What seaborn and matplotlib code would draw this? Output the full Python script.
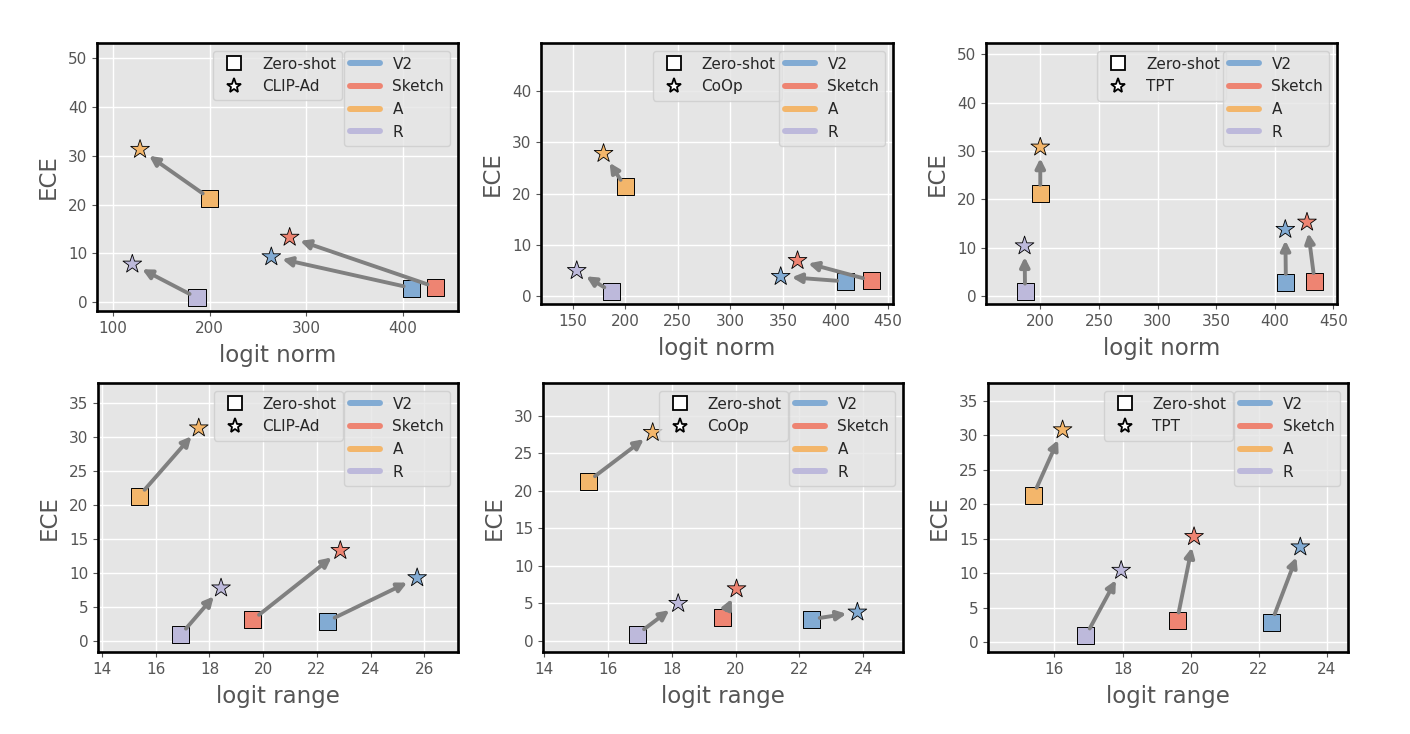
import matplotlib
matplotlib.use("Agg")
import matplotlib.pyplot as plt
import seaborn as sns
import pandas as pd
from matplotlib.lines import Line2D

# ---------------- data ----------------
domains = ["V2", "Sketch", "A", "R"]
domain_colors = ["#82abd3", "#ee8472", "#f3b66b", "#bdb9db"]

zs_ece = [2.9, 3.1, 21.3, 0.9]
zs_norm = [409.5, 434.0, 200.0, 187.0]
zs_range = [22.38, 19.6, 15.38, 16.92]

methods = ["CLIP-Ad", "CoOp", "TPT"]
clipad_ece = [9.3, 13.3, 31.3, 7.8]
clipad_norm = [264.0, 283.0, 128.0, 120.0]
clipad_range = [25.73, 22.87, 17.6, 18.43]

coop_ece = [3.85, 6.95, 27.8, 5.0]
coop_norm = [348.0, 364.0, 179.5, 154.0]
coop_range = [23.82, 20.03, 17.4, 18.2]

tpt_ece = [13.8, 15.3, 30.8, 10.4]
tpt_norm = [409.0, 427.5, 200.0, 186.6]
tpt_range = [23.22, 20.1, 16.24, 17.96]

method_data = {
    "CLIP-Ad": (clipad_norm, clipad_range, clipad_ece),
    "CoOp": (coop_norm, coop_range, coop_ece),
    "TPT": (tpt_norm, tpt_range, tpt_ece),
}

# ---------------- style ----------------
sns.set_style("darkgrid", {
    "axes.facecolor": "#E5E5E5",
    "grid.color": "white",
    "axes.edgecolor": "black",
    "xtick.bottom": True,
    "ytick.left": True,
    "xtick.color": "#555555",
    "ytick.color": "#555555",
    "axes.labelcolor": "#555555",
})
plt.rcParams["font.family"] = ["DejaVu Sans"]
plt.rcParams["axes.linewidth"] = 1.9
plt.rcParams["xtick.major.size"] = 3.5
plt.rcParams["ytick.major.size"] = 3.5
plt.rcParams["xtick.major.width"] = 0.8
plt.rcParams["ytick.major.width"] = 0.8
plt.rcParams["xtick.labelsize"] = 11
plt.rcParams["ytick.labelsize"] = 11
plt.rcParams["grid.linewidth"] = 1.0

W, H = 1410, 734
fig = plt.figure(figsize=(W / 100, H / 100), dpi=100)

# axes boxes in pixels: (left, top, right, bottom)
boxes = [
    [(97, 43, 458, 311), (541, 43, 893, 304), (986, 43, 1337, 304)],
    [(98, 383, 458, 652), (543, 383, 903, 652), (988, 383, 1348, 652)],
]
xlims = [
    [(83.4, 457.4), (120.0, 454.8), (153.7, 453.1)],
    [(13.85, 27.25), (13.96, 25.25), (14.05, 24.62)],
]
ylims = [
    [(-1.8, 53.1), (-1.5, 49.3), (-1.6, 52.3)],
    [(-1.6, 37.9), (-1.47, 34.4), (-1.45, 37.6)],
]
xlabels = ["logit norm", "logit range"]

palette = dict(zip(domains, domain_colors))

for r in range(2):
    for c, m in enumerate(methods):
        l, t, rr, b = boxes[r][c]
        ax = fig.add_axes([l / W, 1 - b / H, (rr - l) / W, (b - t) / H])
        zs_x = zs_norm if r == 0 else zs_range
        mx = method_data[m][0] if r == 0 else method_data[m][1]
        my = method_data[m][2]
        df_zs = pd.DataFrame({"x": zs_x, "ECE": zs_ece, "domain": domains})
        df_m = pd.DataFrame({"x": mx, "ECE": my, "domain": domains})

        sns.scatterplot(data=df_zs, x="x", y="ECE", hue="domain", palette=palette,
                        marker="s", s=150, edgecolor="black", linewidth=0.7,
                        legend=False, ax=ax, zorder=3)
        for i in range(len(domains)):
            ax.annotate("", xy=(mx[i], my[i]), xytext=(zs_x[i], zs_ece[i]),
                        arrowprops=dict(arrowstyle="-|>", color="#808080", lw=2.8,
                                        shrinkA=6, shrinkB=8, mutation_scale=14),
                        zorder=4)
        sns.scatterplot(data=df_m, x="x", y="ECE", hue="domain", palette=palette,
                        marker="*", s=200, edgecolor="black", linewidth=0.6,
                        legend=False, ax=ax, zorder=5)

        ax.set_xlim(*xlims[r][c])
        ax.set_ylim(*ylims[r][c])
        ax.set_xlabel(xlabels[r], fontsize=16.5, labelpad=6)
        ax.set_ylabel("ECE", fontsize=16.5, labelpad=6)
        for sp in ax.spines.values():
            sp.set_color("black")
            sp.set_linewidth(1.9)

        mh = [
            Line2D([], [], linestyle="none", marker="s", markersize=9.5,
                   markerfacecolor="white", markeredgecolor="black", markeredgewidth=1.3),
            Line2D([], [], linestyle="none", marker="*", markersize=11,
                   markerfacecolor="white", markeredgecolor="black", markeredgewidth=1.3),
        ]
        leg1 = ax.legend(mh, ["Zero-shot", m], loc="upper center", fontsize=11,
                         labelspacing=0.5, frameon=True)
        ax.add_artist(leg1)
        dh = [Line2D([], [], color=col, lw=4.3) for col in domain_colors]
        ax.legend(dh, domains, loc="upper right", fontsize=11, labelspacing=0.5,
                  frameon=True)

fig.savefig("out.png", dpi=100)
